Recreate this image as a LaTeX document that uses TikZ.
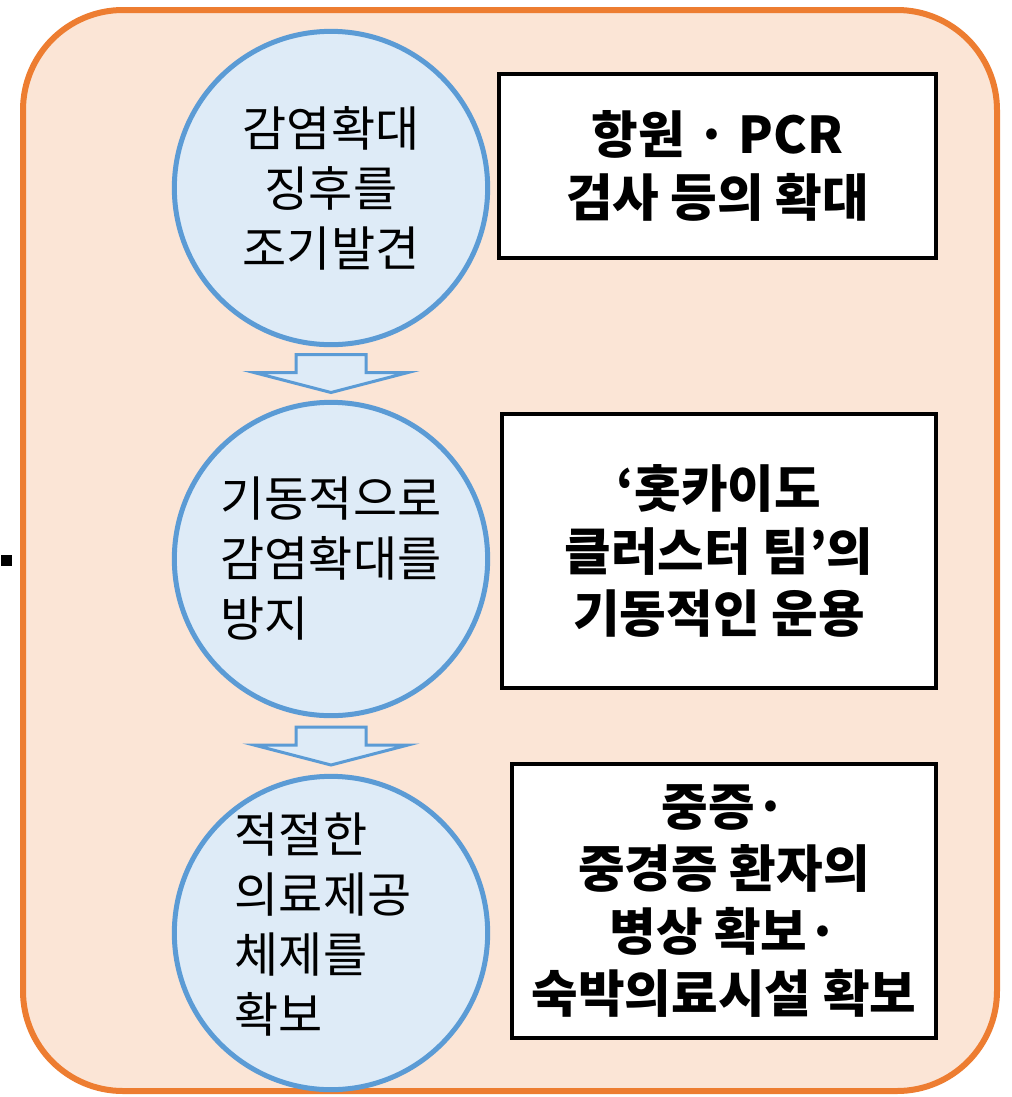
\documentclass[tikz,border=0pt]{standalone}
\usepackage{fontspec}
\setmainfont{Noto Sans CJK KR}
\usetikzlibrary{calc}
\definecolor{frameorange}{HTML}{ED7D31}
\definecolor{framefill}{HTML}{FBE5D6}
\definecolor{stageblue}{HTML}{5B9BD5}
\definecolor{stagefill}{HTML}{DEEBF7}
\begin{document}
\begin{tikzpicture}[x=0.75pt,y=-0.75pt]
\tikzstyle{every node}+=[inner sep=0pt]
\tikzstyle{stage}=[circle,draw=stageblue,fill=stagefill,line width=3.75pt,minimum size=235pt,font=\fontsize{36}{45}\selectfont]
\tikzstyle{action}=[rectangle,draw=black,fill=white,line width=3pt,align=center,font=\bfseries\fontsize{38}{47}\selectfont]
\tikzstyle{downarrow}=[draw=stageblue,fill=stagefill,line width=2.25pt,line join=miter]
\useasboundingbox (0,0) rectangle (1012,1097);
\draw [frameorange,fill=framefill,line width=4.5pt,rounded corners=75pt] (23,10) rectangle (997,1091);
\fill [black] (1,555) rectangle (12,566);
% stages
\node [stage,align=center] (detect) at (331,188) {감염확대\\징후를\\조기발견};
\node [stage,align=left] (prevent) at (331,559) {기동적으로\\감염확대를\\방지};
\node [stage] (secure) at (331,933) {};
\node [align=left,font=\fontsize{36}{45}\selectfont] (securetext) at ($(secure)+(-8,-8)$) {적절한\\의료제공\\체제를\\확보};
% measures
\node [action,minimum width=328pt,minimum height=138pt] (test) at (717.5,166) {항원 · PCR\\검사 등의 확대};
\node [action,minimum width=325.5pt,minimum height=205.5pt] (team) at (719,551) {‘홋카이도\\클러스터 팀’의\\기동적인 운용};
\node [action,minimum width=318pt,minimum height=205.5pt] (beds) at (724,901) {중증·\\중경증 환자의\\병상 확보·\\숙박의료시설 확보};
% arrows
\foreach \from/\to in {detect/prevent,prevent/secure}
  \draw [downarrow] ($(\from.south)!0.5!(\to.north)$) ++(-35,-19) -- ++(70,0) -- ++(0,18)
    -- ++(42,0) -- ++(-77,20) -- ++(-77,-20) -- ++(42,0) -- cycle;
\end{tikzpicture}
\end{document}
